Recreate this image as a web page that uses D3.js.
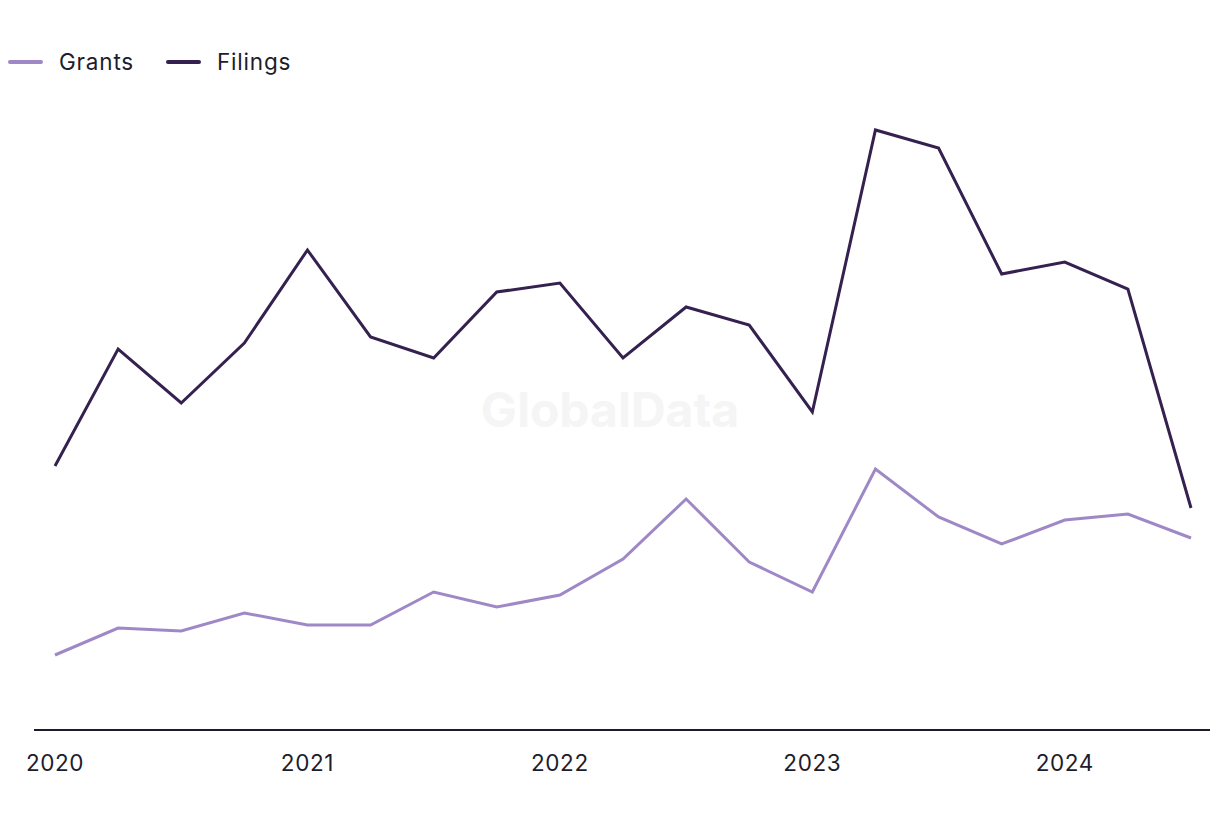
<!DOCTYPE html>
<html><head><meta charset="utf-8">
<script src="https://cdn.jsdelivr.net/npm/d3@7"></script>
<style>body{margin:0;background:#fff;}svg{display:block;font-family:"Inter","Liberation Sans",sans-serif;}</style>
</head><body><svg id="c" width="1220" height="820"></svg>
<script>
const quarters = ["2020 Q1","2020 Q2","2020 Q3","2020 Q4","2021 Q1","2021 Q2","2021 Q3","2021 Q4","2022 Q1","2022 Q2","2022 Q3","2022 Q4","2023 Q1","2023 Q2","2023 Q3","2023 Q4","2024 Q1","2024 Q2","2024 Q3"];
const filings = [88,127,109,129,160,131,124,146,149,124,141,135,106,200,194,152,156,147,74];
const grants = [25,34,33,39,35,35,46,41,45,57,77,56,46,87,71,62,70,72,64];
const yearLabels = ["2020","2021","2022","2023","2024"];
const seriesNames = ["Grants","Filings"];
const colors = {Grants:"#9f88c6", Filings:"#35214f"};

const svg = d3.select("#c");
const x = d3.scaleLinear().domain([0, quarters.length-1]).range([55, 1191]);
const y = d3.scaleLinear().domain([0, 210]).range([730, 100]);

svg.append("text").attr("x",610).attr("y",427).attr("text-anchor","middle")
  .attr("font-size",48).attr("font-weight",700).attr("fill","#f5f5f5").text("GlobalData");

svg.append("line").attr("x1",34).attr("x2",1210).attr("y1",730).attr("y2",730)
  .attr("stroke","#1b1b2b").attr("stroke-width",2);

yearLabels.forEach((lab,i)=>{
  svg.append("text").attr("x",x(i*4)).attr("y",771).attr("text-anchor","middle")
    .attr("font-size",22.5).attr("letter-spacing","0.6px").attr("fill","#1d1d2b").text(lab);
});

const line = d3.line().x((d,i)=>x(i)).y(d=>y(d));
[["Grants",grants],["Filings",filings]].forEach(([n,v])=>{
  svg.append("path").datum(v).attr("d",line).attr("fill","none")
    .attr("stroke",colors[n]).attr("stroke-width",3).attr("stroke-linejoin","miter");
});

const lg = svg.append("g");
const lpos = [10, 168];
seriesNames.forEach((n,i)=>{
  const g = lg.append("g").attr("transform",`translate(${lpos[i]},62)`);
  g.append("line").attr("x1",0).attr("x2",31).attr("y1",0).attr("y2",0)
    .attr("stroke",colors[n]).attr("stroke-width",4).attr("stroke-linecap","round");
  g.append("text").attr("x",49).attr("y",8).attr("font-size",22.5).attr("letter-spacing","0.8px").attr("fill","#1d1d2b").text(n);
});
</script></body></html>
